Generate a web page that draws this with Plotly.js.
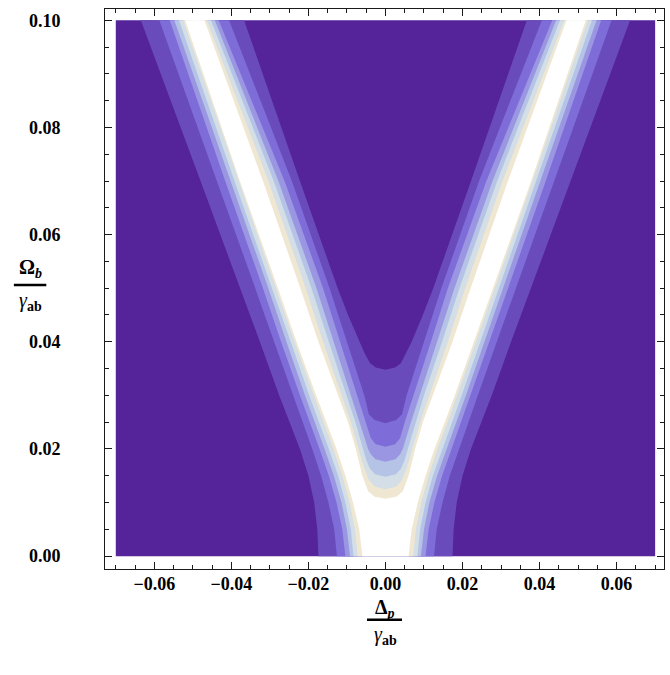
<!DOCTYPE html>
<html><head><meta charset="utf-8">
<script src="https://cdn.plot.ly/plotly-3.0.1.min.js"></script>
<style>body{margin:0;background:#fff}#chart{width:670px;height:675px}</style>
</head><body><div id="chart"></div>
<script>
// Data window of the contour plot
const xLimits = [-0.07, 0.07];
const yLimits = [0, 0.1];
const xTicks = [-0.06, -0.04, -0.02, 0, 0.02, 0.04, 0.06];
const yTicks = [0, 0.02, 0.04, 0.06, 0.08, 0.10];

// Fill colours, from the lowest level (background) to the highest (white)
const levelColors = ['#55239a', '#6a4bbb', '#7e6dd8', '#9b96e2', '#b5c3e6', '#d3dee6', '#efe7d2', '#ffffff'];

// Contour boundaries (|Δp| half-widths at each Ωb row), levels 1..7
const outerY = [0, 0.005, 0.01, 0.015, 0.02, 0.025, 0.03, 0.04, 0.05, 0.07, 0.1];
const outerHalfWidth = [
  [0.0174, 0.0177, 0.0185, 0.0200, 0.0222, 0.0250, 0.0276, 0.0326, 0.0377, 0.0480, 0.0635],
  [0.0126, 0.0133, 0.0148, 0.0167, 0.0190, 0.0215, 0.0240, 0.0289, 0.0338, 0.0437, 0.0587],
  [0.0104, 0.0112, 0.0127, 0.0147, 0.0171, 0.0197, 0.0222, 0.0271, 0.0318, 0.0416, 0.0560],
  [0.0092, 0.0100, 0.0114, 0.0134, 0.0158, 0.0184, 0.0209, 0.0257, 0.0304, 0.0402, 0.0548],
  [0.0083, 0.0090, 0.0104, 0.0123, 0.0147, 0.0173, 0.0198, 0.0246, 0.0295, 0.0392, 0.0536],
  [0.0072, 0.0079, 0.0093, 0.0112, 0.0135, 0.0161, 0.0186, 0.0236, 0.0284, 0.0382, 0.0525],
  [0.0060, 0.0068, 0.0084, 0.0104, 0.0127, 0.0154, 0.0180, 0.0231, 0.0279, 0.0378, 0.0520]
];
// Inner (hole) boundaries: Ωb rows and |Δp| half-widths, starting at the bottom of each hole
const innerY = [
  [0.0348, 0.0352, 0.036, 0.038, 0.04, 0.045, 0.05, 0.07, 0.1],
  [0.0248, 0.0254, 0.0265, 0.03, 0.04, 0.05, 0.07, 0.1],
  [0.0204, 0.0209, 0.022, 0.025, 0.03, 0.04, 0.05, 0.07, 0.1],
  [0.0176, 0.0181, 0.019, 0.02, 0.025, 0.03, 0.04, 0.05, 0.07, 0.1],
  [0.0148, 0.0153, 0.0163, 0.018, 0.02, 0.025, 0.03, 0.04, 0.05, 0.07, 0.1],
  [0.0125, 0.0130, 0.0142, 0.0167, 0.02, 0.025, 0.03, 0.04, 0.05, 0.07, 0.1],
  [0.0107, 0.0111, 0.0121, 0.015, 0.02, 0.025, 0.03, 0.04, 0.05, 0.07, 0.1]
];
const innerHalfWidth = [
  [0, 0.0025, 0.0040, 0.0055, 0.0068, 0.0097, 0.0124, 0.0222, 0.0367],
  [0, 0.0028, 0.0043, 0.0055, 0.0100, 0.0145, 0.0243, 0.0406],
  [0, 0.0025, 0.0038, 0.0050, 0.0073, 0.0118, 0.0162, 0.0262, 0.0433],
  [0, 0.0026, 0.0038, 0.0045, 0.0066, 0.0088, 0.0134, 0.0179, 0.0278, 0.0443],
  [0, 0.0027, 0.0040, 0.0050, 0.0058, 0.0078, 0.0100, 0.0147, 0.0192, 0.0290, 0.0453],
  [0, 0.0028, 0.0043, 0.0056, 0.0070, 0.0090, 0.0114, 0.0162, 0.0207, 0.0304, 0.0464],
  [0, 0.0028, 0.0045, 0.0060, 0.0077, 0.0097, 0.0123, 0.0174, 0.0221, 0.0318, 0.0470]
];

const traces = [];
// lowest level fills the whole data window
traces.push({
  type: 'scatter', mode: 'lines', fill: 'toself',
  x: [xLimits[0], xLimits[1], xLimits[1], xLimits[0], xLimits[0]],
  y: [yLimits[0], yLimits[0], yLimits[1], yLimits[1], yLimits[0]],
  fillcolor: levelColors[0], line: {width: 0, color: levelColors[0]}, hoverinfo: 'skip'
});
for (let k = 0; k < outerHalfWidth.length; k++) {
  const ow = outerHalfWidth[k], iy = innerY[k], iw = innerHalfWidth[k];
  const xs = [], ys = [];
  for (let i = 0; i < outerY.length; i++) { xs.push(-ow[i]); ys.push(outerY[i]); }
  for (let j = iy.length - 1; j >= 0; j--) { xs.push(-iw[j]); ys.push(iy[j]); }
  for (let j = 1; j < iy.length; j++) { xs.push(iw[j]); ys.push(iy[j]); }
  for (let i = outerY.length - 1; i >= 0; i--) { xs.push(ow[i]); ys.push(outerY[i]); }
  xs.push(xs[0]); ys.push(ys[0]);
  traces.push({
    type: 'scatter', mode: 'lines', fill: 'toself', x: xs, y: ys,
    fillcolor: levelColors[k + 1], line: {width: 0, color: levelColors[k + 1]}, hoverinfo: 'skip'
  });
}

const frameColor = '#1a1a1a';
const tickFont = {family: 'Liberation Serif', size: 18, color: '#000', weight: 700};
const axisCommon = {
  showgrid: false, zeroline: false, showline: true, linecolor: frameColor, linewidth: 1,
  mirror: 'ticks', ticks: 'inside', ticklen: 7, tickwidth: 1, tickcolor: frameColor,
  tickformat: '.2f', tickfont: tickFont,
  minor: {ticks: 'inside', ticklen: 4, tickwidth: 1, tickcolor: frameColor, dtick: 0.005, tick0: 0, showgrid: false}
};
const titleFont = {family: 'Liberation Serif', size: 20, color: '#000'};
const layout = {
  width: 670, height: 675,
  margin: {l: 105, r: 6, t: 9, b: 106},
  paper_bgcolor: '#fff', plot_bgcolor: '#fff',
  showlegend: false, hovermode: false,
  xaxis: Object.assign({}, axisCommon, {range: [-0.0728, 0.0723], tickvals: xTicks, ticklabelstandoff: -2}),
  yaxis: Object.assign({}, axisCommon, {range: [-0.0024, 0.1021], tickvals: yTicks, ticklabelstandoff: 40}),
  annotations: [
    {xref: 'paper', yref: 'paper', x: 0.501, y: -0.070, xanchor: 'center', yanchor: 'middle', text: '<b>Δ</b><sub><b><i>p</i></b></sub>', showarrow: false, font: titleFont},
    {xref: 'paper', yref: 'paper', x: 0.501, y: -0.1185, xanchor: 'center', yanchor: 'middle', text: '<i>γ</i><sub><b>ab</b></sub>', showarrow: false, font: titleFont},
    {xref: 'paper', yref: 'paper', x: -0.134, y: 0.5375, xanchor: 'center', yanchor: 'middle', text: '<b>Ω</b><sub><b><i>b</i></b></sub>', showarrow: false, font: titleFont},
    {xref: 'paper', yref: 'paper', x: -0.134, y: 0.478, xanchor: 'center', yanchor: 'middle', text: '<i>γ</i><sub><b>ab</b></sub>', showarrow: false, font: titleFont}
  ],
  shapes: [
    {type: 'line', xref: 'paper', yref: 'paper', x0: 0.4687, x1: 0.5313, y0: -0.0905, y1: -0.0905, line: {color: '#000', width: 2.5}},
    {type: 'line', xref: 'paper', yref: 'paper', x0: -0.163, x1: -0.105, y0: 0.5071, y1: 0.5071, line: {color: '#000', width: 2.5}}
  ]
};
Plotly.newPlot('chart', traces, layout, {displayModeBar: false, staticPlot: true});
</script>
</body></html>
